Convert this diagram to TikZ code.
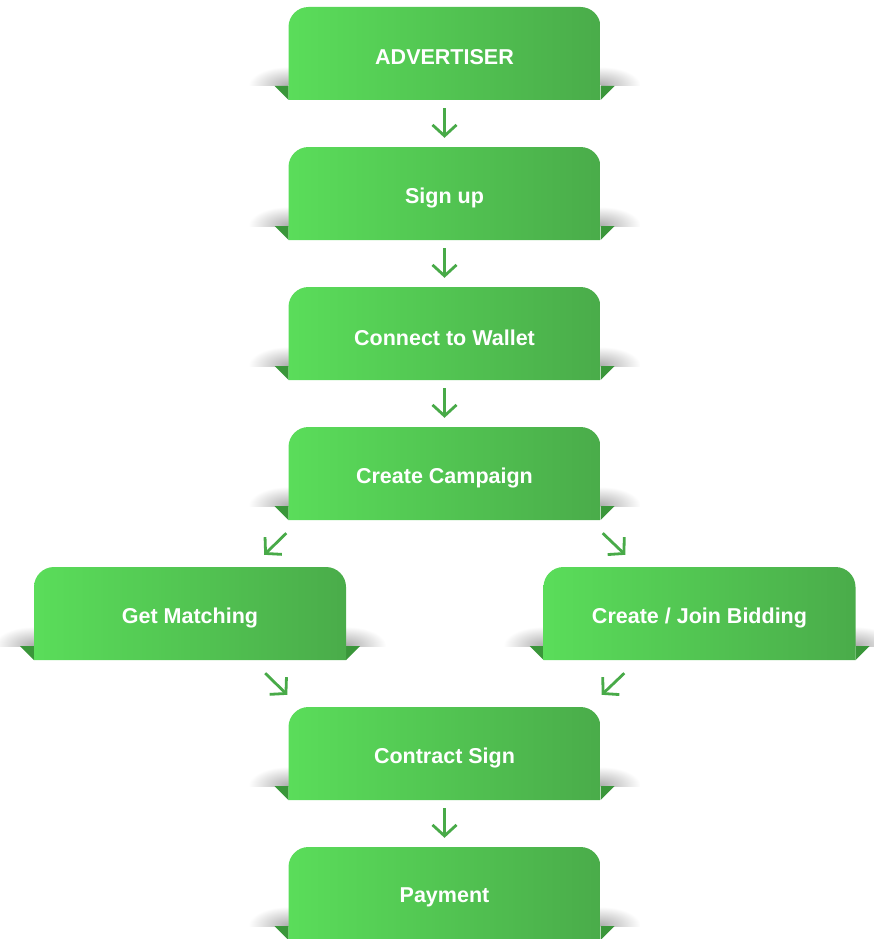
\documentclass[tikz,border=0pt]{standalone}
\usepackage{fontspec}
\setmainfont{Liberation Sans}
\usetikzlibrary{arrows.meta}

\definecolor{gLeft}{RGB}{90,221,90}
\definecolor{gRight}{RGB}{74,172,74}
\definecolor{foldGreen}{RGB}{58,150,58}
\definecolor{arrowGreen}{RGB}{72,170,72}

\tikzset{
  boxframe/.style={minimum width=312pt, minimum height=93pt, inner sep=0pt},
  boxlabel/.style={text=white, font=\bfseries\fontsize{21.5}{25}\selectfont,
    yshift=-4pt, inner sep=0pt},
  flowarrow/.style={draw=arrowGreen, line width=2.8pt,
    -{Straight Barb[length=11pt,width=24pt]}},
}

% A ribbon box: drop shadows, folded corner tabs, shaded body and its label
\newcommand\flowbox[4]{%
  \begin{scope}[shift={(#2,#3)}]
    \begin{scope}
      \clip (-210,8) rectangle (-156,32.5);
      \shade[inner color=black!32, outer color=white]
        (-156,32) ellipse [x radius=40pt, y radius=19pt];
    \end{scope}
    \begin{scope}
      \clip (156,8) rectangle (210,32.5);
      \shade[inner color=black!32, outer color=white]
        (156,32) ellipse [x radius=40pt, y radius=19pt];
    \end{scope}
    \fill[foldGreen] (-170,32.5) -- (-156,32.5) -- (-156,46.5) -- cycle;
    \fill[foldGreen] (170,32.5) -- (156,32.5) -- (156,46.5) -- cycle;
    \shade[left color=gLeft, right color=gRight]
      (-156,46.5) -- (-156,-26.5) arc[start angle=180, end angle=90, radius=20pt]
      -- (136,-46.5) arc[start angle=90, end angle=0, radius=20pt]
      -- (156,46.5) -- cycle;
  \end{scope}
  \node[boxframe, label={[boxlabel]center:#4}] (#1) at (#2,#3) {};
}

\begin{document}
\begin{tikzpicture}[x=1pt, y=-1pt]
  \useasboundingbox (0,0) rectangle (873,939);

  \flowbox{adv}{444.5}{53.5}{ADVERTISER}
  \flowbox{sign}{444.5}{193.5}{Sign up}
  \flowbox{wallet}{444.5}{333.5}{Connect to Wallet}
  \flowbox{camp}{444.5}{473.5}{Create Campaign}
  \flowbox{match}{190}{613.5}{Get Matching}
  \flowbox{bid}{699.5}{613.5}{Create / Join Bidding}
  \flowbox{contract}{444.5}{753.5}{Contract Sign}
  \flowbox{pay}{444.5}{893.5}{Payment}

  % straight steps
  \draw[flowarrow, shorten <=8pt, shorten >=9pt] (adv.south) -- (sign.north);
  \draw[flowarrow, shorten <=8pt, shorten >=9pt] (sign.south) -- (wallet.north);
  \draw[flowarrow, shorten <=8pt, shorten >=9pt] (wallet.south) -- (camp.north);
  \draw[flowarrow, shorten <=8pt, shorten >=9pt] (contract.south) -- (pay.north);

  % branching and merging
  \draw[flowarrow] ([xshift=-2pt,yshift=-13pt]camp.south west)
    -- ([xshift=-82pt,yshift=12pt]match.north east);
  \draw[flowarrow] ([xshift=2pt,yshift=-13pt]camp.south east)
    -- ([xshift=82pt,yshift=12pt]bid.north west);
  \draw[flowarrow] ([xshift=-81pt,yshift=-13pt]match.south east)
    -- ([xshift=-1pt,yshift=12pt]contract.north west);
  \draw[flowarrow] ([xshift=81pt,yshift=-13pt]bid.south west)
    -- ([xshift=1pt,yshift=12pt]contract.north east);
\end{tikzpicture}
\end{document}
